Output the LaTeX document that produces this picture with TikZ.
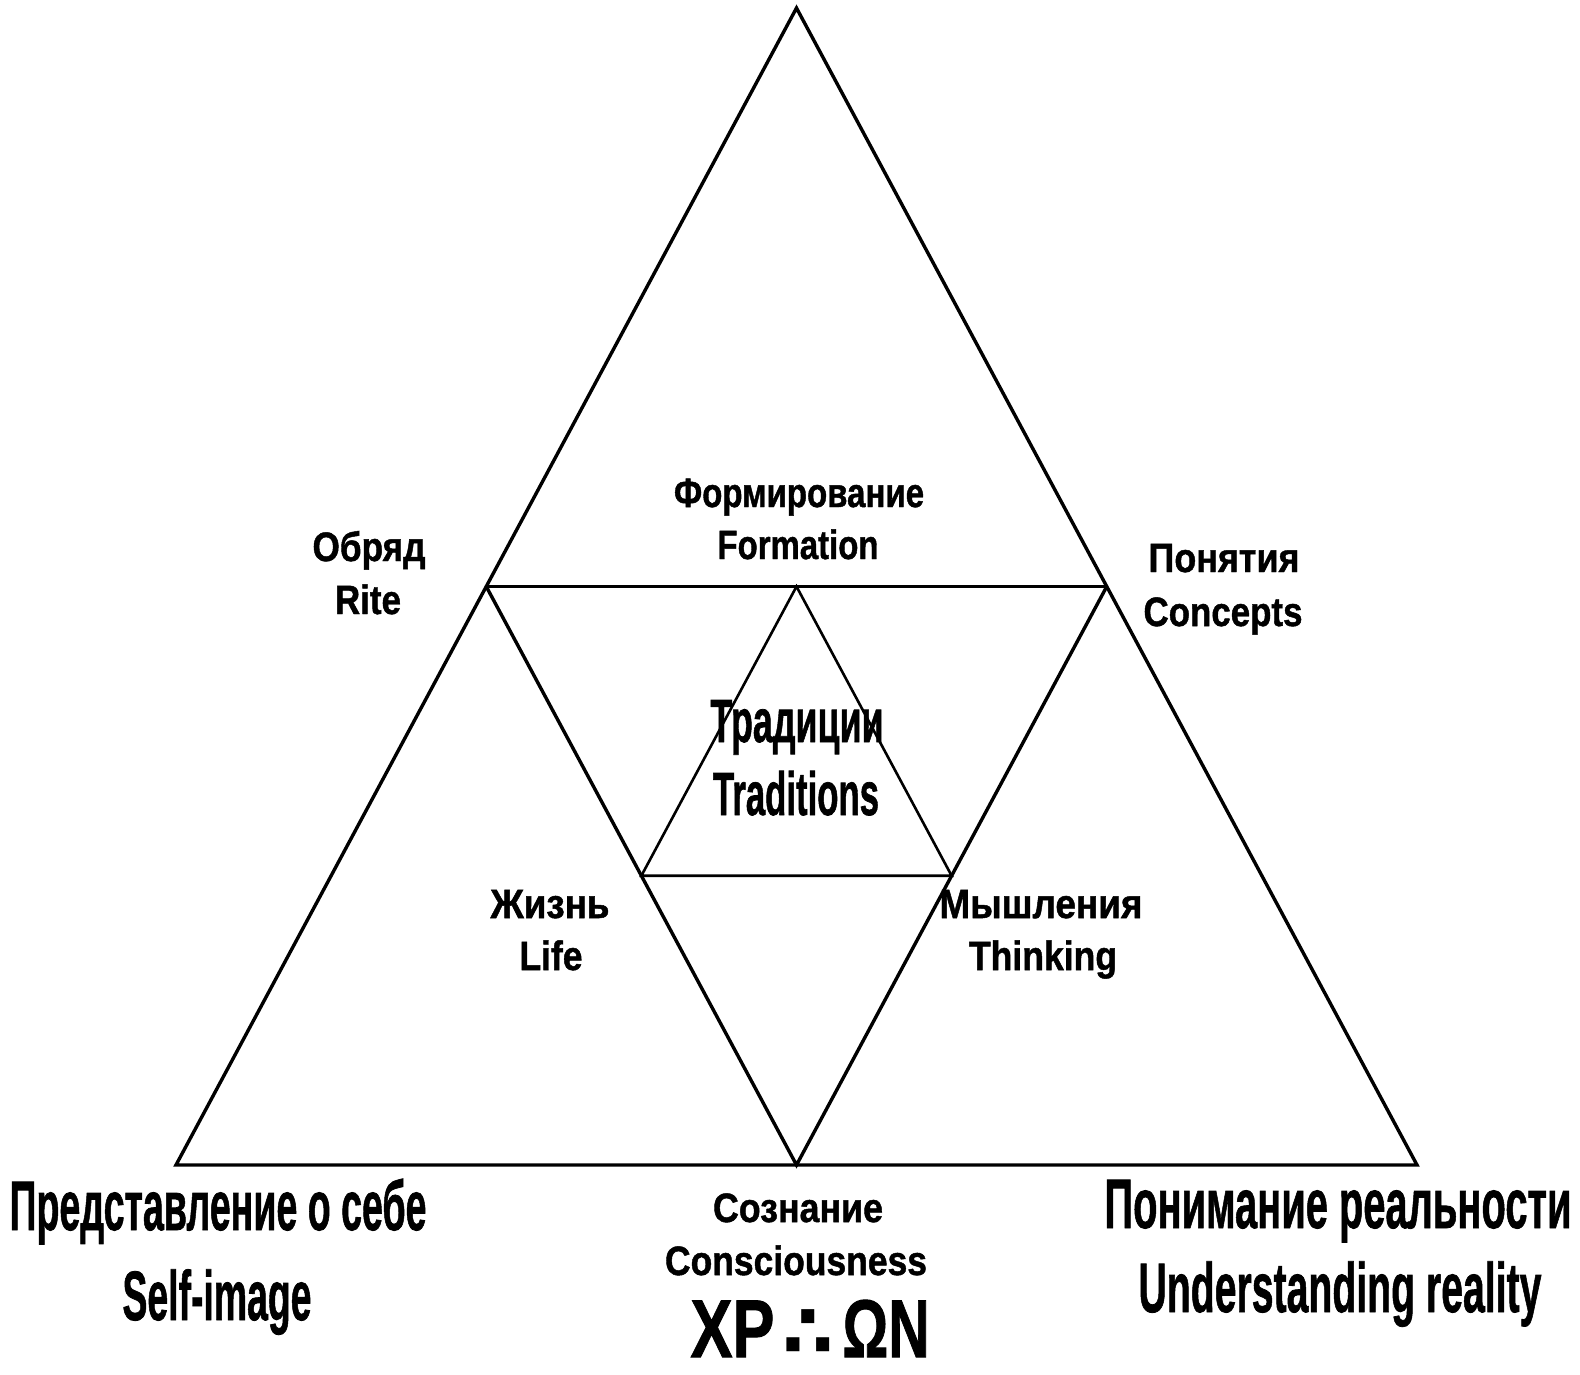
\documentclass[tikz,border=0pt]{standalone}
\usepackage{fontspec}
\usepackage{graphicx}
\usetikzlibrary{calc}
\setmainfont{Liberation Sans}[BoldFeatures={FakeBold=1.2}]
\newfontfamily\symf{DejaVu Sans}
\newcommand\W[2]{\resizebox{#1pt}{\height}{#2}}
\begin{document}
\begin{tikzpicture}[x=0.5pt,y=-0.5pt,
  outer/.style={line width=1.7pt,line join=miter},
  inner/.style={line width=1.3pt,line join=miter},
  lab/.style={inner sep=0pt,anchor=base,font=\fontsize{20.5}{24}\selectfont\bfseries},
  midlab/.style={inner sep=0pt,anchor=base,font=\fontsize{30.5}{34}\selectfont\bfseries},
  biglab/.style={inner sep=0pt,anchor=base,font=\fontsize{35}{40}\selectfont\bfseries},
  hugelab/.style={inner sep=0pt,anchor=base,font=\fontsize{41}{45}\selectfont\bfseries}]
\useasboundingbox (0,0) rectangle (1580,1375);
% corners
\coordinate (A) at (796.5,8);
\coordinate (BL) at (176,1165);
\coordinate (BR) at (1417,1165);
\coordinate (L) at ($(A)!0.5!(BL)$);
\coordinate (R) at ($(A)!0.5!(BR)$);
\coordinate (B) at ($(BL)!0.5!(BR)$);
\coordinate (T) at ($(L)!0.5!(R)$);
\coordinate (IL) at ($(L)!0.5!(B)$);
\coordinate (IR) at ($(R)!0.5!(B)$);
% lines
\draw[outer] (A) -- (BL) -- (BR) -- cycle;
\draw[outer] (L) -- (R);
\draw[outer] (L) -- (B) -- (R);
\draw[inner] (T) -- (IL) -- (IR) -- cycle;
% labels
\node[lab] (f1) at (799,507) {\W{125}{Формирование}};
\node[lab] (f2) at (798,559) {\W{80.5}{Formation}};
\node[lab] (o1) at (369,561) {\W{56.5}{Обряд}};
\node[lab] (o2) at (368,614) {\W{33}{Rite}};
\node[lab] (p1) at (1224,572) {\W{75.5}{Понятия}};
\node[lab] (p2) at (1223,626) {\W{79.5}{Concepts}};
\node[midlab] (t1) at (797,742) {\W{86.5}{Традиции}};
\node[midlab] (t2) at (796,815) {\W{83}{Traditions}};
\node[lab] (z1) at (550,918) {\W{59.5}{Жизнь}};
\node[lab] (z2) at (551,970) {\W{31.5}{Life}};
\node[lab] (m1) at (1041,918) {\W{101.5}{Мышления}};
\node[lab] (m2) at (1043,970) {\W{74}{Thinking}};
\node[lab] (s1) at (798,1222) {\W{85}{Сознание}};
\node[lab] (s2) at (796,1275) {\W{131}{Consciousness}};
\node[biglab] (b1) at (218,1230) {\W{208.5}{Представление о себе}};
\node[biglab] (b2) at (217,1320) {\W{94.5}{Self-image}};
\node[biglab] (r1) at (1338,1228) {\W{233.5}{Понимание реальности}};
\node[biglab] (r2) at (1340,1312) {\W{201.5}{Understanding reality}};
\node[hugelab] (x1) at (810,1357) {\raisebox{0pt}[\height][0pt]{\W{42}{XP}\makebox[34pt]{\fontsize{37}{37}\selectfont\symf ∴}\W{43.5}{ΩN}}};
\end{tikzpicture}
\end{document}
